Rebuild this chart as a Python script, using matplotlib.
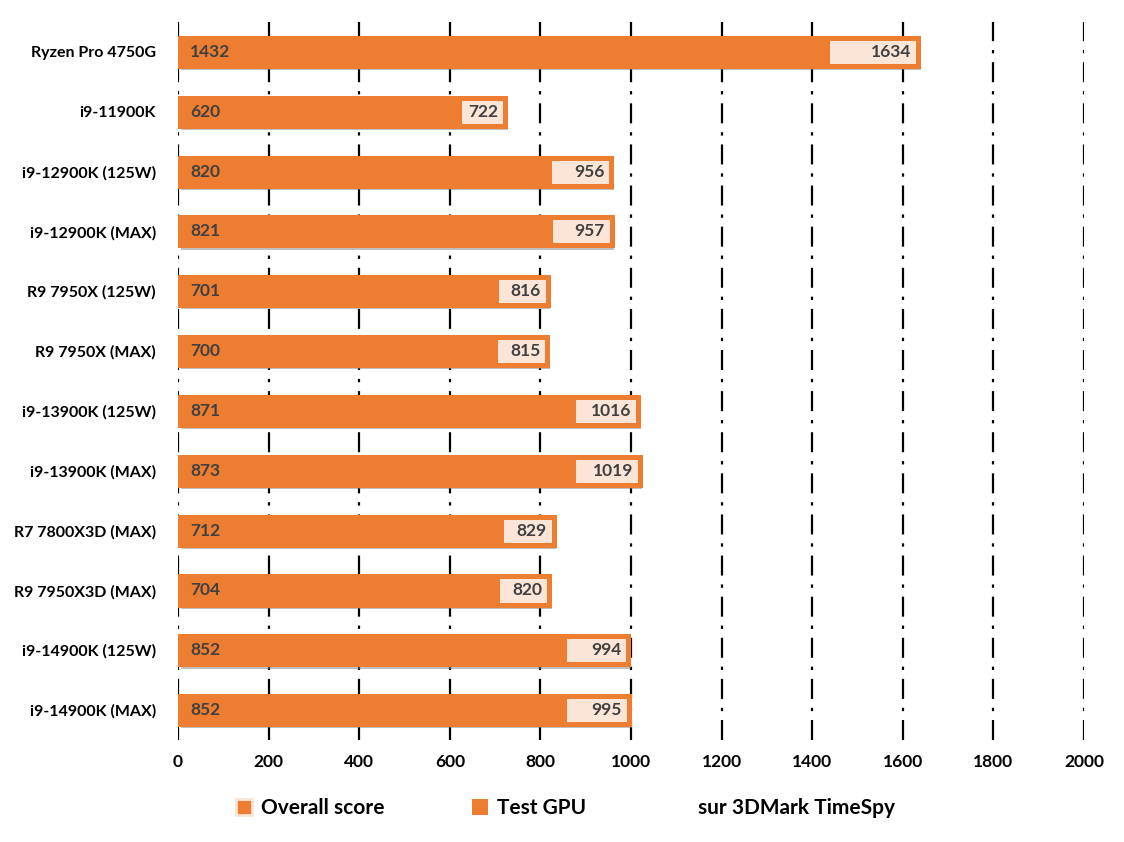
import matplotlib
matplotlib.use("Agg")
import matplotlib.pyplot as plt
import matplotlib.patheffects as pe
from matplotlib.patches import Patch

plt.rcParams['font.family'] = ['Lato', 'DejaVu Sans']

cpus = ["Ryzen Pro 4750G", "i9-11900K", "i9-12900K (125W)", "i9-12900K (MAX)",
        "R9 7950X (125W)", "R9 7950X (MAX)", "i9-13900K (125W)", "i9-13900K (MAX)",
        "R7 7800X3D (MAX)", "R9 7950X3D (MAX)", "i9-14900K (125W)", "i9-14900K (MAX)"]
overall = [1432, 620, 820, 821, 701, 700, 871, 873, 712, 704, 852, 852]
gpu = [1634, 722, 956, 957, 816, 815, 1016, 1019, 829, 820, 994, 995]
xticks = [0, 200, 400, 600, 800, 1000, 1200, 1400, 1600, 1800, 2000]

orange = "#ED7D31"
light = "#FBE5D6"
txt = "#404040"

fig = plt.figure(figsize=(11.24, 8.42), dpi=100)
ax = fig.add_axes([0.1584, 0.1211, 0.806, 0.8528])

y = list(range(len(cpus)))
shadow = [pe.SimplePatchShadow(offset=(2, -3), shadow_rgbFace="#808080", alpha=0.5), pe.Normal()]

# grid first
for v in xticks:
    ax.axvline(v, color="black", lw=1.6, ls=(0, (9, 4, 1.5, 4)), zorder=0)

bars_gpu = ax.barh(y, gpu, height=0.47, color=light, edgecolor=orange, lw=3.6, zorder=2)
for b in bars_gpu:
    b.set_path_effects(shadow)
ax.barh(y, overall, height=0.47, color=orange, edgecolor=orange, lw=3.6, zorder=3)

for yi, o, g in zip(y, overall, gpu):
    ax.text(27, yi, str(o), ha="left", va="center", fontsize=12.5, fontweight="bold", color=txt, zorder=4)
    ax.text(g - 15, yi, str(g), ha="right", va="center", fontsize=12.5, fontweight="bold", color=txt, zorder=4)

ax.set_xlim(0, 2000)
ax.set_ylim(len(cpus) - 0.5, -0.5)
ax.set_xticks(xticks)
ax.set_xticklabels([str(v) for v in xticks], fontsize=12.5, fontweight="bold")
ax.set_yticks(y)
ax.set_yticklabels(cpus, fontsize=11.5, fontweight="bold")
ax.tick_params(length=0, pad=16)
ax.tick_params(axis="x", pad=10)
for s in ax.spines.values():
    s.set_visible(False)

handles = [Patch(facecolor=orange, edgecolor=light, lw=2),
           Patch(facecolor=orange),
           Patch(facecolor="none", edgecolor="none")]
fig.legend(handles, ["Overall score", "Test GPU", "sur 3DMark TimeSpy"],
           loc="center", bbox_to_anchor=(0.503, 0.04), ncol=3, frameon=False,
           prop={"size": 15, "weight": "bold"}, handlelength=0.8, handleheight=0.8,
           handletextpad=0.4, columnspacing=4.2)

fig.savefig("out.png", dpi=100)
